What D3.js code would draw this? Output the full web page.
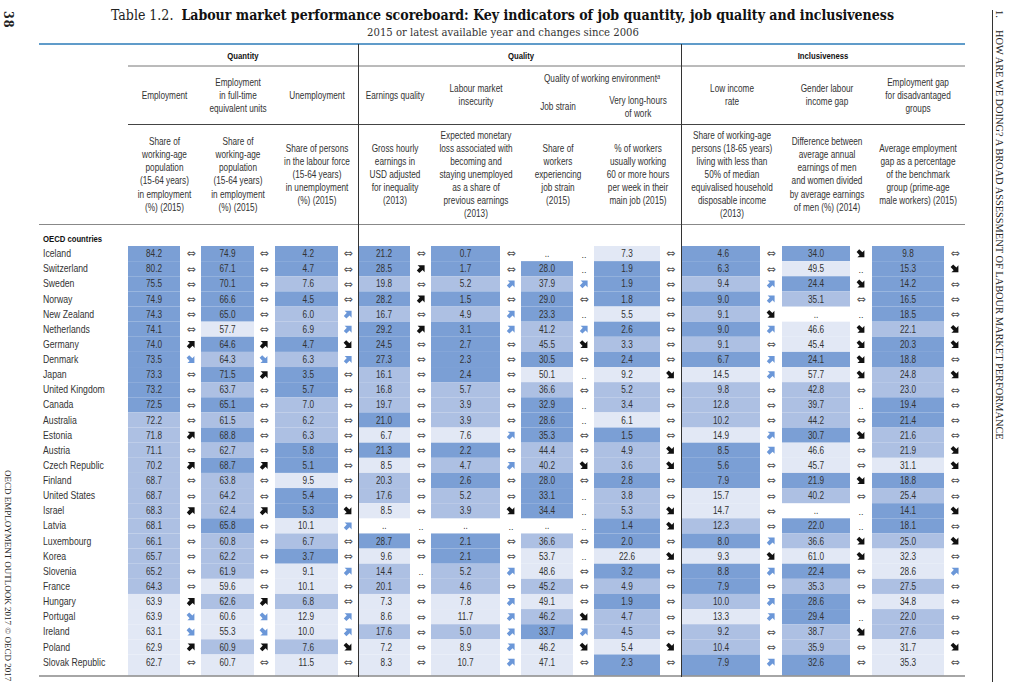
<!DOCTYPE html>
<html>
<head>
<meta charset="utf-8">
<title>Labour market performance scoreboard</title>
<script src="https://cdn.jsdelivr.net/npm/d3@7"></script>
<style>
body { margin: 0; background: #fff; }
svg { display: block; }
text { font-family: "Liberation Sans", sans-serif; fill: #333; }
.serif { font-family: "DejaVu Serif Condensed", "DejaVu Serif", serif; }
.book { font-family: "Liberation Serif", serif; }
</style>
</head>
<body>
<svg id="chart" width="1024" height="696"></svg>
<script>
var countries = ["Iceland", "Switzerland", "Sweden", "Norway", "New Zealand", "Netherlands", "Germany", "Denmark", "Japan", "United Kingdom", "Canada", "Australia", "Estonia", "Austria", "Czech Republic", "Finland", "United States", "Israel", "Latvia", "Luxembourg", "Korea", "Slovenia", "France", "Hungary", "Portugal", "Ireland", "Poland", "Slovak Republic"];

// values are strings so that ".." and "74.0" stay as printed
// tier: 3 = top third, 2 = middle, 1 = bottom, 0 = no data
// trend: "=" no change, u/d black arrows, U/D blue arrows, ".." no data
var employment = ["84.2", "80.2", "75.5", "74.9", "74.3", "74.1", "74.0", "73.5", "73.3", "73.2", "72.5", "72.2", "71.8", "71.1", "70.2", "68.7", "68.7", "68.3", "68.1", "66.1", "65.7", "65.2", "64.3", "63.9", "63.9", "63.1", "62.9", "62.7"];
var employmentTier = [3, 3, 3, 3, 3, 3, 3, 3, 3, 3, 3, 2, 2, 2, 2, 2, 2, 2, 2, 2, 2, 2, 2, 1, 1, 1, 1, 1];
var employmentTrend = ["=", "=", "=", "=", "=", "=", "u", "D", "=", "=", "=", "=", "u", "=", "u", "=", "=", "u", "=", "=", "=", "=", "=", "u", "D", "D", "u", "="];

var fullTime = ["74.9", "67.1", "70.1", "66.6", "65.0", "57.7", "64.6", "64.3", "71.5", "63.7", "65.1", "61.5", "68.8", "62.7", "68.7", "63.8", "64.2", "62.4", "65.8", "60.8", "62.2", "61.9", "59.6", "62.6", "60.6", "55.3", "60.9", "60.7"];
var fullTimeTier = [3, 3, 3, 3, 3, 1, 3, 2, 3, 2, 3, 2, 3, 2, 3, 2, 2, 2, 3, 2, 2, 2, 1, 2, 1, 1, 2, 1];
var fullTimeTrend = ["=", "=", "=", "=", "=", "=", "u", "D", "u", "=", "=", "=", "=", "=", "u", "=", "=", "u", "=", "=", "=", "=", "=", "u", "D", "D", "u", "="];

var unemployment = ["4.2", "4.7", "7.6", "4.5", "6.0", "6.9", "4.7", "6.3", "3.5", "5.7", "7.0", "6.2", "6.3", "5.8", "5.1", "9.5", "5.4", "5.3", "10.1", "6.7", "3.7", "9.1", "10.1", "6.8", "12.9", "10.0", "7.6", "11.5"];
var unemploymentTier = [3, 3, 2, 3, 2, 2, 3, 2, 3, 3, 2, 2, 2, 3, 3, 1, 3, 3, 1, 2, 3, 1, 1, 2, 1, 1, 2, 1];
var unemploymentTrend = ["=", "=", "=", "=", "U", "U", "d", "U", "=", "=", "=", "=", "=", "=", "=", "=", "=", "d", "U", "=", "=", "U", "=", "=", "U", "U", "d", "="];

var earnings = ["21.2", "28.5", "19.8", "28.2", "16.7", "29.2", "24.5", "27.3", "16.1", "16.8", "19.7", "21.0", "6.7", "21.3", "8.5", "20.3", "17.6", "8.5", "..", "28.7", "9.6", "14.4", "20.1", "7.3", "8.6", "17.6", "7.2", "8.3"];
var earningsTier = [3, 3, 2, 3, 2, 3, 3, 3, 2, 2, 2, 3, 1, 3, 1, 2, 2, 1, 0, 3, 1, 2, 2, 1, 1, 2, 1, 1];
var earningsTrend = ["=", "u", "=", "u", "=", "u", "=", "=", "=", "=", "=", "=", "=", "=", "=", "=", "=", "=", "..", "=", "=", "..", "=", "=", "=", "=", "=", "="];

var insecurity = ["0.7", "1.7", "5.2", "1.5", "4.9", "3.1", "2.7", "2.3", "2.4", "5.7", "3.9", "3.9", "7.6", "2.2", "4.7", "2.6", "5.2", "3.9", "..", "2.1", "2.1", "5.2", "4.6", "7.8", "11.7", "5.0", "8.9", "10.7"];
var insecurityTier = [3, 3, 2, 3, 2, 3, 3, 3, 3, 2, 2, 2, 1, 3, 2, 3, 2, 2, 0, 3, 3, 2, 2, 1, 1, 2, 1, 1];
var insecurityTrend = ["=", "=", "U", "=", "U", "U", "=", "=", "=", "=", "=", "=", "U", "=", "U", "=", "=", "d", "..", "=", "=", "U", "=", "U", "U", "U", "U", "U"];

var jobStrain = ["..", "28.0", "37.9", "29.0", "23.3", "41.2", "45.5", "30.5", "50.1", "36.6", "32.9", "28.6", "35.3", "44.4", "40.2", "28.0", "33.1", "34.4", "..", "36.6", "53.7", "48.6", "45.2", "49.1", "46.2", "33.7", "46.2", "47.1"];
var jobStrainTier = [0, 3, 2, 3, 3, 2, 2, 3, 1, 2, 3, 3, 3, 2, 2, 3, 3, 3, 0, 2, 1, 1, 2, 1, 2, 3, 1, 1];
var jobStrainTrend = ["..", "..", "U", "=", "..", "U", "d", "=", "..", "=", "..", "..", "=", "=", "d", "=", "..", "..", "..", "=", "..", "=", "=", "=", "d", "U", "d", "="];

var longHours = ["7.3", "1.9", "1.9", "1.8", "5.5", "2.6", "3.3", "2.4", "9.2", "5.2", "3.4", "6.1", "1.5", "4.9", "3.6", "2.8", "3.8", "5.3", "1.4", "2.0", "22.6", "3.2", "4.9", "1.9", "4.7", "4.5", "5.4", "2.3"];
var longHoursTier = [1, 3, 3, 3, 1, 3, 2, 3, 1, 2, 2, 1, 3, 2, 2, 3, 2, 2, 3, 3, 1, 3, 2, 3, 2, 2, 1, 3];
var longHoursTrend = ["=", "=", "=", "=", "=", "=", "=", "=", "d", "=", "=", "=", "=", "d", "d", "=", "=", "d", "d", "=", "d", "=", "=", "=", "=", "=", "d", "="];

var lowIncome = ["4.6", "6.3", "9.4", "9.0", "9.1", "9.0", "9.1", "6.7", "14.5", "9.8", "12.8", "10.2", "14.9", "8.5", "5.6", "7.9", "15.7", "14.7", "12.3", "8.0", "9.3", "8.8", "7.9", "10.0", "13.3", "9.2", "10.4", "7.9"];
var lowIncomeTier = [3, 3, 2, 3, 2, 3, 2, 3, 1, 2, 2, 2, 1, 3, 3, 3, 1, 1, 2, 3, 1, 3, 3, 2, 1, 2, 2, 3];
var lowIncomeTrend = ["=", "=", "U", "U", "d", "U", "=", "U", "U", "=", "=", "=", "U", "U", "=", "=", "=", "=", "=", "U", "d", "U", "=", "U", "U", "=", "=", "U"];

var genderGap = ["34.0", "49.5", "24.4", "35.1", "..", "46.6", "45.4", "24.1", "57.7", "42.8", "39.7", "44.2", "30.7", "46.6", "45.7", "21.9", "40.2", "..", "22.0", "36.6", "61.0", "22.4", "35.3", "28.6", "29.4", "38.7", "35.9", "32.6"];
var genderGapTier = [3, 1, 3, 2, 0, 1, 1, 3, 1, 2, 2, 2, 3, 1, 1, 3, 2, 0, 3, 2, 1, 3, 2, 3, 3, 2, 2, 3];
var genderGapTrend = ["d", "..", "d", "=", "..", "d", "d", "d", "d", "=", "..", "=", "d", "=", "=", "d", "=", "..", "..", "d", "d", "=", "=", "=", "..", "d", "=", "="];

var employmentGap = ["9.8", "15.3", "14.2", "16.5", "18.5", "22.1", "20.3", "18.8", "24.8", "23.0", "19.4", "21.4", "21.6", "21.9", "31.1", "18.8", "25.4", "14.1", "18.1", "25.0", "32.3", "28.6", "27.5", "34.8", "22.0", "27.6", "31.7", "35.3"];
var employmentGapTier = [3, 3, 3, 3, 3, 2, 3, 3, 2, 2, 3, 3, 2, 2, 1, 3, 2, 3, 3, 2, 1, 1, 2, 1, 2, 2, 1, 1];
var employmentGapTrend = ["=", "d", "=", "=", "=", "d", "d", "=", "d", "=", "=", "=", "=", "d", "d", "=", "=", "d", "=", "d", "=", "U", "=", "=", "=", "=", "d", "="];

var columnKeys = ["employment", "fullTime", "unemployment", "earnings", "insecurity", "jobStrain", "longHours", "lowIncome", "genderGap", "employmentGap"];
var columnValues = [employment, fullTime, unemployment, earnings, insecurity, jobStrain, longHours, lowIncome, genderGap, employmentGap];
var columnTiers = [employmentTier, fullTimeTier, unemploymentTier, earningsTier, insecurityTier, jobStrainTier, longHoursTier, lowIncomeTier, genderGapTier, employmentGapTier];
var columnTrends = [employmentTrend, fullTimeTrend, unemploymentTrend, earningsTrend, insecurityTrend, jobStrainTrend, longHoursTrend, lowIncomeTrend, genderGapTrend, employmentGapTrend];

var groupLabels = ["Quantity", "Quality", "Inclusiveness"];

var columnTitles = [
    ["Employment"],
    ["Employment", "in full-time", "equivalent units"],
    ["Unemployment"],
    ["Earnings quality"],
    ["Labour market", "insecurity"],
    ["Job strain"],
    ["Very long-hours", "of work"],
    ["Low income", "rate"],
    ["Gender labour", "income gap"],
    ["Employment gap", "for disadvantaged", "groups"]
];

var columnNotes = [
    ["Share of", "working-age", "population", "(15-64 years)", "in employment", "(%) (2015)"],
    ["Share of", "working-age", "population", "(15-64 years)", "in employment", "(%) (2015)"],
    ["Share of persons", "in the labour force", "(15-64 years)", "in unemployment", "(%) (2015)"],
    ["Gross hourly", "earnings in", "USD adjusted", "for inequality", "(2013)"],
    ["Expected monetary", "loss associated with", "becoming and", "staying unemployed", "as a share of", "previous earnings", "(2013)"],
    ["Share of", "workers", "experiencing", "job strain", "(2015)"],
    ["% of workers", "usually working", "60 or more hours", "per week in their", "main job (2015)"],
    ["Share of working-age", "persons (18-65 years)", "living with less than", "50% of median", "equivalised household", "disposable income", "(2013)"],
    ["Difference between", "average annual", "earnings of men", "and women divided", "by average earnings", "of men (%) (2014)"],
    ["Average employment", "gap as a percentage", "of the benchmark", "group (prime-age", "male workers) (2015)"]
];

// page layout
var cellLefts = [128, 201, 275, 358.5, 431, 521, 594, 682, 782, 872];
var cellRights = [180, 254, 338, 410, 500, 573, 660, 760, 850, 944];
var arrowCentres = [191, 264, 348, 421, 511, 584, 670.5, 771, 861, 955];
var headerCentres = [164.5, 238, 317, 395, 476, 558, 638, 732, 827, 918];
var rightAligned = { unemployment: 314, earnings: 392, lowIncome: 729 };
var groupCentres = [243, 521, 823];

// the scan is set in a narrow grotesque, Liberation Sans squeezed sideways gets close
function squeezed(xpos, ypos, sx) {
    return "translate(" + xpos + "," + ypos + ") scale(" + sx + ",1)";
}

var svg = d3.select("#chart");

var y = d3.scaleBand().domain(countries).range([246, 669.6]);
var left = d3.scaleOrdinal().domain(columnKeys).range(cellLefts);
var right = d3.scaleOrdinal().domain(columnKeys).range(cellRights);
var arrowX = d3.scaleOrdinal().domain(columnKeys).range(arrowCentres);
var headerX = d3.scaleOrdinal().domain(columnKeys).range(headerCentres);
var tierColor = d3.scaleOrdinal().domain([0, 1, 2, 3]).range(["#ffffff", "#e2e8f5", "#adc0e3", "#7b9fd5"]);

function rowHeight(i) {
    // the last row runs on to the bottom rule
    return i == countries.length - 1 ? y.bandwidth() + 6 : y.bandwidth();
}

// long table form, one entry per country and indicator
var cells = [];
columnKeys.forEach(function (key, c) {
    countries.forEach(function (country, i) {
        cells.push({
            key: key,
            country: country,
            row: i,
            value: columnValues[c][i],
            tier: columnTiers[c][i],
            trend: columnTrends[c][i]
        });
    });
});

svg.append("g").selectAll("rect")
    .data(cells.filter(function (d) { return d.tier > 0; }))
    .enter()
    .append("rect")
    .attr("x", function (d) { return left(d.key); })
    .attr("y", function (d) { return y(d.country); })
    .attr("width", function (d) { return right(d.key) - left(d.key); })
    .attr("height", function (d) { return rowHeight(d.row); })
    .attr("fill", function (d) { return tierColor(d.tier); });

svg.append("g").selectAll("text")
    .data(cells)
    .enter()
    .append("text")
    .attr("transform", function (d) {
        var xpos = (left(d.key) + right(d.key)) / 2;
        if (d.value != ".." && rightAligned[d.key]) xpos = rightAligned[d.key];
        return squeezed(xpos, y(d.country) + y.bandwidth() / 2 + 3.6, 0.8);
    })
    .attr("text-anchor", function (d) {
        return d.value != ".." && rightAligned[d.key] ? "end" : "middle";
    })
    .attr("font-size", 10.3)
    .text(function (d) { return d.value; });

// trend markers
var rowMid = function (d) { return y(d.country) + y.bandwidth() / 2; };

svg.append("g").selectAll("text")
    .data(cells.filter(function (d) { return d.trend == "="; }))
    .enter()
    .append("text")
    .attr("x", function (d) { return arrowX(d.key); })
    .attr("y", function (d) { return rowMid(d) + 3.9; })
    .attr("text-anchor", "middle")
    .attr("font-size", 11)
    .style("font-family", "DejaVu Sans")
    .style("fill", "#555")
    .text("\u21D4");

svg.append("g").selectAll("text")
    .data(cells.filter(function (d) { return d.trend == ".."; }))
    .enter()
    .append("text")
    .attr("x", function (d) { return arrowX(d.key); })
    .attr("y", function (d) { return rowMid(d) + 4; })
    .attr("text-anchor", "middle")
    .attr("font-size", 9)
    .text("..");

var arrowShape = "M-3.4,-3.4 L3.6,-3.4 L3.6,3.6 L1.6,1.4 L-1.6,4.4 L-4.2,1.8 L-1.2,-1.4 Z";
var trendAngle = { u: 0, U: 0, d: 90, D: 90 };

svg.append("g").selectAll("path")
    .data(cells.filter(function (d) { return trendAngle[d.trend] !== undefined; }))
    .enter()
    .append("path")
    .attr("d", arrowShape)
    .attr("transform", function (d) {
        return "translate(" + arrowX(d.key) + "," + rowMid(d) + ") rotate(" + trendAngle[d.trend] + ")";
    })
    .attr("fill", function (d) { return d.trend == "u" || d.trend == "d" ? "#111" : "#6b97d8"; });

// row labels
svg.append("text")
    .attr("transform", squeezed(43, 241.5, 0.78))
    .attr("font-size", 9.9)
    .attr("font-weight", "bold")
    .style("fill", "#111")
    .text("OECD countries");

svg.append("g").selectAll("text")
    .data(countries)
    .enter()
    .append("text")
    .attr("transform", function (d) { return squeezed(43, y(d) + y.bandwidth() / 2 + 3.6, 0.82); })
    .attr("font-size", 10.6)
    .text(function (d) { return d; });

// header blocks
function lines(selection, rows, xpos, ymid, step) {
    rows.forEach(function (t, i) {
        selection.append("text")
            .attr("transform", squeezed(xpos, ymid + (i - (rows.length - 1) / 2) * step + 3.4, 0.8))
            .attr("text-anchor", "middle")
            .attr("font-size", 10.3)
            .text(t);
    });
}

var header = svg.append("g");
columnKeys.forEach(function (key, c) {
    // job strain and long hours sit under the quality of working environment line
    var ymid = 95.5;
    if (key == "jobStrain") ymid = 107;
    if (key == "longHours") ymid = 106.7;
    lines(header, columnTitles[c], headerX(key), ymid, 13);
    lines(header, columnNotes[c], headerX(key), 174.5, 13.1);
});

header.selectAll("text.group")
    .data(groupLabels)
    .enter()
    .append("text")
    .attr("class", "group")
    .attr("transform", function (d, i) { return squeezed(groupCentres[i], 58.6, 0.78); })
    .attr("text-anchor", "middle")
    .attr("font-size", 9.9)
    .attr("font-weight", "bold")
    .style("fill", "#111")
    .text(function (d) { return d; });

var envLabel = header.append("text")
    .attr("transform", squeezed(602, 81.5, 0.8))
    .attr("text-anchor", "middle")
    .attr("font-size", 10.3);
envLabel.append("tspan").text("Quality of working environment");
envLabel.append("tspan")
    .attr("dy", -3)
    .attr("font-size", 7)
    .attr("font-style", "italic")
    .text("a");

// rules
var rules = [
    { x1: 39, x2: 965, y1: 44, y2: 44, color: "#2b7bb9", width: 1.5 },
    { x1: 128, x2: 965, y1: 66, y2: 66, color: "#777", width: 1 },
    { x1: 128, x2: 965, y1: 124.5, y2: 124.5, color: "#444", width: 1 },
    { x1: 39, x2: 965, y1: 224.5, y2: 224.5, color: "#888", width: 1 },
    { x1: 39, x2: 965, y1: 676, y2: 676, color: "#888", width: 1.5 },
    { x1: 358.5, x2: 358.5, y1: 44, y2: 677, color: "#333", width: 1 },
    { x1: 681.5, x2: 681.5, y1: 44, y2: 677, color: "#333", width: 1 },
    { x1: 992.5, x2: 992.5, y1: 10, y2: 682, color: "#333", width: 1 }
];

svg.append("g").selectAll("line")
    .data(rules)
    .enter()
    .append("line")
    .attr("x1", function (d) { return d.x1; })
    .attr("x2", function (d) { return d.x2; })
    .attr("y1", function (d) { return d.y1; })
    .attr("y2", function (d) { return d.y2; })
    .attr("stroke", function (d) { return d.color; })
    .attr("stroke-width", function (d) { return d.width; });

// title
var title = svg.append("text")
    .attr("class", "serif")
    .attr("x", 111)
    .attr("y", 20)
    .attr("font-size", 14)
    .style("fill", "#222");
title.append("tspan").text("Table 1.2.  ").attr("xml:space", "preserve");
title.append("tspan").attr("font-weight", "bold").style("fill", "#111")
    .text("Labour market performance scoreboard: Key indicators of job quantity, job quality and inclusiveness");

svg.append("text")
    .attr("class", "serif")
    .attr("x", 503)
    .attr("y", 36)
    .attr("text-anchor", "middle")
    .attr("font-size", 11.2)
    .text("2015 or latest available year and changes since 2006");

// page furniture, rotated along the margins
function sideText(xpos, ypos, size, weight, str, cls) {
    return svg.append("text")
        .attr("class", cls)
        .attr("transform", "translate(" + xpos + "," + ypos + ") rotate(90)")
        .attr("font-size", size)
        .attr("font-weight", weight)
        .style("fill", "#222")
        .text(str);
}

// the page number sits tight on the edge, kept small enough that it is not clipped
sideText(3.5, 11, 12.5, "bold", "38", "serif").style("letter-spacing", "1px");
sideText(5, 470, 9, "normal", "OECD EMPLOYMENT OUTLOOK 2017 \u00A9 OECD 2017", "book");
sideText(996, 10, 10.4, "normal", "1.", "book");
sideText(996, 30, 10.4, "normal", "HOW ARE WE DOING? A BROAD ASSESSMENT OF LABOUR MARKET PERFORMANCE", "book");
</script>
</body>
</html>
